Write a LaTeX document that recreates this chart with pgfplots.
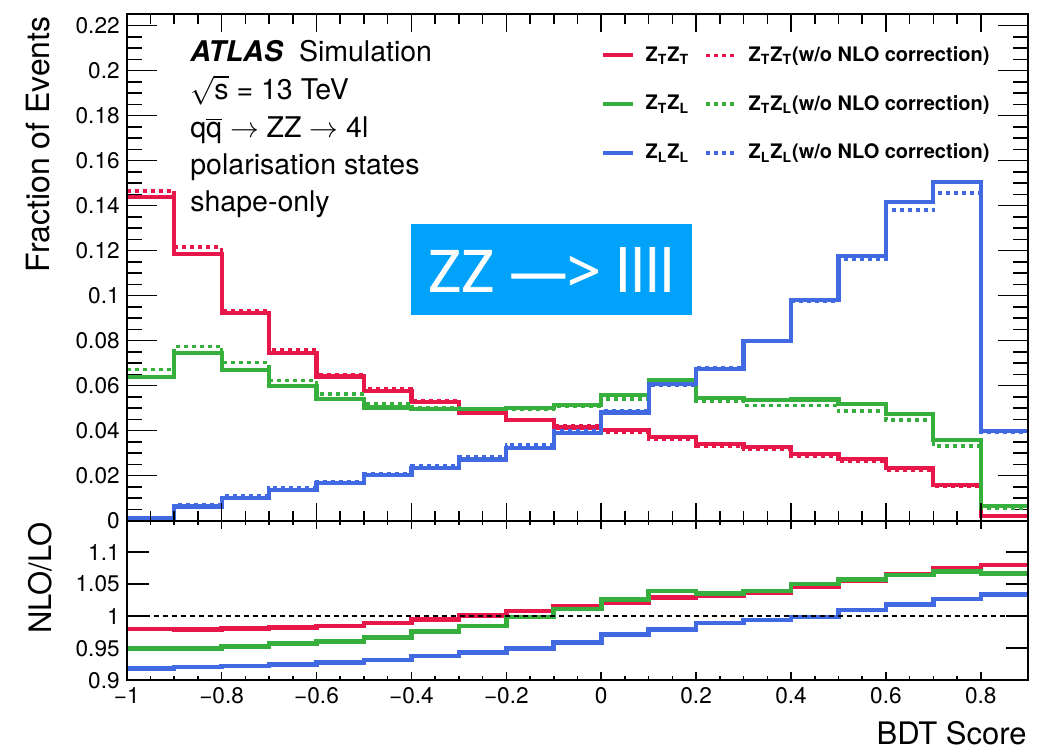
\documentclass[border=0pt]{standalone}
\usepackage{fontspec}
\setmainfont{TeX Gyre Heros}
\newfontfamily\boxfont[FakeBold=1.3]{Open Sans}
\usepackage{pgfplots}
\pgfplotsset{compat=1.18}
\definecolor{cred}{RGB}{232,23,74}
\definecolor{cgreen}{RGB}{55,175,60}
\definecolor{cblue}{RGB}{65,105,225}
\definecolor{cbox}{RGB}{0,162,250}
\pgfplotsset{
  panel/.style={scale only axis, width=450.8pt, xmin=-1, xmax=0.9, anchor=south west,
    axis line style={line width=0.9pt}, tick style={line width=0.8pt, black},
    /pgf/number format/assume math mode=true, scaled ticks=false, tick align=inside,
    ticklabel style={font=\fontsize{11.3}{12}\selectfont},
    /pgf/number format/fixed, /pgf/number format/precision=2},
  nlo/.style={const plot, line width=2.1pt, #1},
  lo/.style={const plot, line width=1.7pt, dash pattern=on 2pt off 2pt, #1},
  rat/.style={const plot, line width=2.3pt, #1, forget plot},
}
\begin{document}
\begin{tikzpicture}[x=1pt,y=1pt]
\path[use as bounding box] (0,0) rectangle (525,374);
% ---------- top panel (y ticks, data, legend)
\begin{axis}[panel, height=253.35pt, at={(63.35pt,113.65pt)},
  ymin=0, ymax=0.2252, xtick=\empty,
  ytick={0,0.02,0.04,0.06,0.08,0.1,0.12,0.14,0.16,0.18,0.2,0.22},
  minor y tick num=3, major tick length=15pt, minor tick length=7.5pt,
  legend columns=2, legend cell align=left,
  legend style={at={(0.525,0.943)}, anchor=north west, draw=none, fill=none,
    inner sep=0pt, font=\bfseries\fontsize{10}{10}\selectfont, row sep=12.5pt,
    column sep=0pt, nodes={inner sep=1.5pt},
    /tikz/every odd column/.append style={column sep=4pt},
    /tikz/every even column/.append style={column sep=6pt}},
  legend image code/.code={\draw[#1] (0pt,0pt) -- (15pt,0pt);},
]
\addplot[nlo=cred] coordinates {(-1,0.1437)(-0.9,0.1187)(-0.8,0.0924)(-0.7,0.0747)(-0.6,0.0641)(-0.5,0.0578)(-0.4,0.0526)(-0.3,0.0481)(-0.2,0.0447)(-0.1,0.0414)(0,0.0402)(0.1,0.0372)(0.2,0.0342)(0.3,0.0327)(0.4,0.0297)(0.5,0.0275)(0.6,0.0234)(0.7,0.0160)(0.8,0.0022)(0.9,0.0022)};
\addlegendentry{Z\textsubscript{T}Z\textsubscript{T}}
\addplot[lo=cred] coordinates {(-1,0.1466)(-0.9,0.1216)(-0.8,0.0932)(-0.7,0.0760)(-0.6,0.0650)(-0.5,0.0585)(-0.4,0.0533)(-0.3,0.0488)(-0.2,0.0451)(-0.1,0.0420)(0,0.0394)(0.1,0.0362)(0.2,0.0332)(0.3,0.0317)(0.4,0.0287)(0.5,0.0265)(0.6,0.0225)(0.7,0.0152)(0.8,0.0020)(0.9,0.0020)};
\addlegendentry{Z\textsubscript{T}Z\textsubscript{T}(w/o NLO correction)}
\addplot[nlo=cgreen] coordinates {(-1,0.0638)(-0.9,0.0747)(-0.8,0.0671)(-0.7,0.0597)(-0.6,0.0541)(-0.5,0.0503)(-0.4,0.0496)(-0.3,0.0496)(-0.2,0.0500)(-0.1,0.0513)(0,0.0560)(0.1,0.0623)(0.2,0.0545)(0.3,0.0536)(0.4,0.0539)(0.5,0.0518)(0.6,0.0473)(0.7,0.0357)(0.8,0.0067)(0.9,0.0067)};
\addlegendentry{Z\textsubscript{T}Z\textsubscript{L}}
\addplot[lo=cgreen] coordinates {(-1,0.0672)(-0.9,0.0775)(-0.8,0.0702)(-0.7,0.0623)(-0.6,0.0563)(-0.5,0.0518)(-0.4,0.0503)(-0.3,0.0495)(-0.2,0.0496)(-0.1,0.0510)(0,0.0541)(0.1,0.0608)(0.2,0.0530)(0.3,0.0511)(0.4,0.0511)(0.5,0.0488)(0.6,0.0447)(0.7,0.0332)(0.8,0.0055)(0.9,0.0055)};
\addlegendentry{Z\textsubscript{T}Z\textsubscript{L}(w/o NLO correction)}
\addplot[nlo=cblue] coordinates {(-1,0.0013)(-0.9,0.0063)(-0.8,0.0100)(-0.7,0.0137)(-0.6,0.0167)(-0.5,0.0202)(-0.4,0.0234)(-0.3,0.0272)(-0.2,0.0324)(-0.1,0.0388)(0,0.0481)(0.1,0.0608)(0.2,0.0675)(0.3,0.0799)(0.4,0.0981)(0.5,0.1178)(0.6,0.1417)(0.7,0.1507)(0.8,0.0399)(0.9,0.0399)};
\addlegendentry{Z\textsubscript{L}Z\textsubscript{L}}
\addplot[lo=cblue] coordinates {(-1,0.0015)(-0.9,0.0073)(-0.8,0.0110)(-0.7,0.0145)(-0.6,0.0175)(-0.5,0.0209)(-0.4,0.0245)(-0.3,0.0284)(-0.2,0.0336)(-0.1,0.0399)(0,0.0491)(0.1,0.0600)(0.2,0.0680)(0.3,0.0799)(0.4,0.0974)(0.5,0.1163)(0.6,0.1380)(0.7,0.1456)(0.8,0.0391)(0.9,0.0391)};
\addlegendentry{Z\textsubscript{L}Z\textsubscript{L}(w/o NLO correction)}
\end{axis}
% ---------- top panel x ticks
\begin{axis}[panel, height=253.35pt, at={(63.35pt,113.65pt)},
  ymin=0, ymax=0.2252, ytick=\empty,
  xtick={-1,-0.8,-0.6,-0.4,-0.2,0,0.2,0.4,0.6,0.8}, xticklabels={},
  minor x tick num=3, major tick length=9pt, minor tick length=5pt]
\end{axis}
% ---------- ratio panel (y ticks, data)
\begin{axis}[panel, height=79.8pt, at={(63.35pt,33.85pt)},
  ymin=0.9, ymax=1.149, xtick=\empty, ytick={0.9,0.95,1,1.05,1.1},
  major tick length=11pt]
\addplot[rat=cred] coordinates {(-1,0.980)(-0.9,0.979)(-0.8,0.9805)(-0.7,0.9826)(-0.6,0.985)(-0.5,0.9895)(-0.4,0.9947)(-0.3,1.001)(-0.2,1.008)(-0.1,1.0147)(0,1.021)(0.1,1.029)(0.2,1.0326)(0.3,1.0368)(0.4,1.0458)(0.5,1.055)(0.6,1.0658)(0.7,1.0747)(0.8,1.080)(0.9,1.080)};
\addplot[rat=cgreen] coordinates {(-1,0.950)(-0.9,0.950)(-0.8,0.9526)(-0.7,0.957)(-0.6,0.9605)(-0.5,0.967)(-0.4,0.976)(-0.3,0.985)(-0.2,0.999)(-0.1,1.011)(0,1.026)(0.1,1.039)(0.2,1.0358)(0.3,1.039)(0.4,1.050)(0.5,1.0568)(0.6,1.064)(0.7,1.0695)(0.8,1.067)(0.9,1.067)};
\addplot[rat=cblue] coordinates {(-1,0.918)(-0.9,0.921)(-0.8,0.922)(-0.7,0.925)(-0.6,0.928)(-0.5,0.9316)(-0.4,0.938)(-0.3,0.943)(-0.2,0.950)(-0.1,0.959)(0,0.971)(0.1,0.979)(0.2,0.9895)(0.3,0.994)(0.4,0.999)(0.5,1.0095)(0.6,1.018)(0.7,1.027)(0.8,1.034)(0.9,1.038)};
\addplot[black, line width=1.3pt, dash pattern=on 2.5pt off 2pt, forget plot] coordinates {(-1,1)(0.9,1)};
\end{axis}
% ---------- ratio panel x ticks
\begin{axis}[panel, height=79.8pt, at={(63.35pt,33.85pt)},
  ymin=0.9, ymax=1.149, ytick=\empty,
  xtick={-1,-0.8,-0.6,-0.4,-0.2,0,0.2,0.4,0.6,0.8},
  xticklabels={−1,−0.8,−0.6,−0.4,−0.2,0,0.2,0.4,0.6,0.8},
  minor x tick num=3, major tick length=4pt, minor tick length=2.2pt]
\end{axis}
% ---------- labels and texts
\node[rotate=90, anchor=east, inner sep=0pt, font=\fontsize{16}{17}\selectfont] at (19,366) {Fraction of Events};
\node[rotate=90, anchor=east, inner sep=0pt, font=\fontsize{15.5}{16}\selectfont] at (20,113) {NLO/LO};
\node[anchor=base east, inner sep=0pt, font=\fontsize{15.5}{16}\selectfont] at (513.5,1.8) {BDT Score};
\begin{scope}[every node/.style={anchor=base west, inner sep=0pt, font=\fontsize{14.25}{15}\selectfont}]
\node at (95,343.15) {\textbf{\textit{ATLAS}}\hspace{0.55em}Simulation};
\node at (95,324.3) {$\sqrt{\mbox{s}}$ = 13 TeV};
\node at (95,305.2) {q$\overline{\mbox{q}}$ $\rightarrow$ ZZ $\rightarrow$ 4l};
\node at (95,286.6) {polarisation states};
\node at (95,268.4) {shape-only};
\end{scope}
\node[fill=cbox, text=white, minimum width=140.5pt, minimum height=45.35pt, inner sep=0pt,
  font=\boxfont\fontsize{29}{30}\selectfont] at (275.6,239.2) {ZZ —> llll};
\end{tikzpicture}
\end{document}
